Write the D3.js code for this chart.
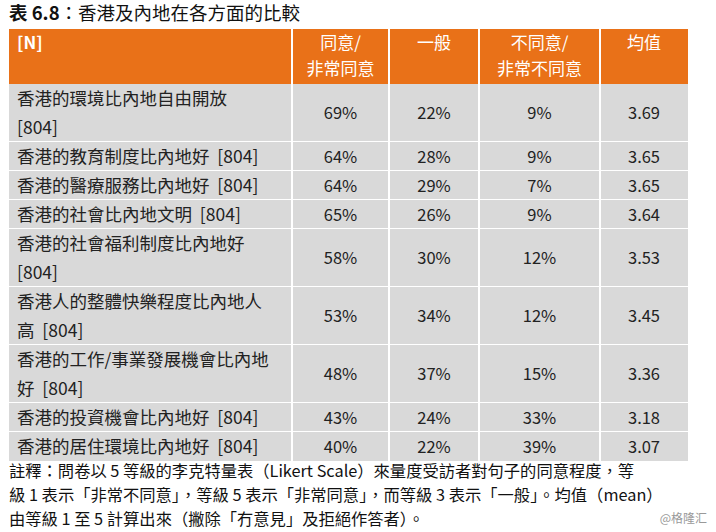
<!DOCTYPE html><html><head><meta charset="utf-8"><script src="https://cdn.jsdelivr.net/npm/d3@7"></script>
<style>body{margin:0;background:#fff}text{font-family:"Noto Sans CJK TC","Noto Sans",sans-serif}</style></head><body><svg id="c" width="716" height="532"></svg><script>
const headers=[["[N]"],["同意/","非常同意"],["一般"],["不同意/","非常不同意"],["均值"]];
const labels=[["香港的環境比內地自由開放","[804]"],["香港的教育制度比內地好  [804]"],["香港的醫療服務比內地好  [804]"],["香港的社會比內地文明  [804]"],["香港的社會福利制度比內地好","[804]"],["香港人的整體快樂程度比內地人","高  [804]"],["香港的工作/事業發展機會比內地","好  [804]"],["香港的投資機會比內地好  [804]"],["香港的居住環境比內地好  [804]"]];
const agree=[69,64,64,65,58,53,48,43,40];
const neutral=[22,28,29,26,30,34,37,24,22];
const disagree=[9,9,7,9,12,12,15,33,39];
const mean=["3.69","3.65","3.65","3.64","3.53","3.45","3.36","3.18","3.07"];
const notes=["註釋：問卷以 5 等級的李克特量表（Likert Scale）來量度受訪者對句子的同意程度，等","級 1 表示「非常不同意」，等級 5 表示「非常同意」，而等級 3 表示「一般」。均值（mean）","由等級 1 至 5 計算出來（撇除「冇意見」及拒絕作答者）。"];
const svg=d3.select("#c");
const colX=[9,292,389,479,600,688];
svg.append("text").attr("x",9).attr("y",20).attr("font-size",18.5).attr("fill","#111")
 .html('<tspan font-weight="bold">表 6.8</tspan>：香港及內地在各方面的比較');
const tableTop=29,headH=55,lineH=29;
svg.append("rect").attr("x",9).attr("y",tableTop).attr("width",679).attr("height",headH).attr("fill","#E97118");
headers.forEach((h,i)=>{const cx=i==0?colX[0]+8:(colX[i]+colX[i+1])/2;
 h.forEach((t,j)=>svg.append("text").attr("x",cx).attr("y",tableTop+20+j*26).attr("text-anchor",i==0?"start":"middle").attr("font-size",17).attr("fill","#fff").attr("font-weight",i==0?"bold":"normal").text(t));});
let y=tableTop+headH;
labels.forEach((l,r)=>{const h=l.length*lineH;
 svg.append("rect").attr("x",9).attr("y",y).attr("width",679).attr("height",h).attr("fill","#D9D9D9");
 l.forEach((t,j)=>svg.append("text").attr("x",17).attr("y",y+21+j*lineH).attr("font-size",17.5).attr("fill","#222").attr("xml:space","preserve").text(t));
 const vals=[agree[r]+"%",neutral[r]+"%",disagree[r]+"%",mean[r]];
 vals.forEach((v,i)=>svg.append("text").attr("x",(colX[i+1]+colX[i+2])/2).attr("y",y+h/2+6).attr("text-anchor","middle").attr("font-size",16.5).attr("fill","#222").text(v));
 y+=h;
 if(r<labels.length-1)svg.append("line").attr("x1",9).attr("x2",688).attr("y1",y).attr("y2",y).attr("stroke","#fff").attr("stroke-width",2);
});
colX.slice(1,5).forEach(x=>svg.append("line").attr("x1",x).attr("x2",x).attr("y1",tableTop).attr("y2",y).attr("stroke","#fff").attr("stroke-width",2));
notes.forEach((t,i)=>svg.append("text").attr("x",9).attr("y",y+16+i*24).attr("font-size",16.3).attr("fill","#111").text(t));
svg.append("text").attr("x",707).attr("y",y+62).attr("text-anchor","end").attr("font-size",12).attr("fill","#999").text("@格隆汇");
</script></body></html>
